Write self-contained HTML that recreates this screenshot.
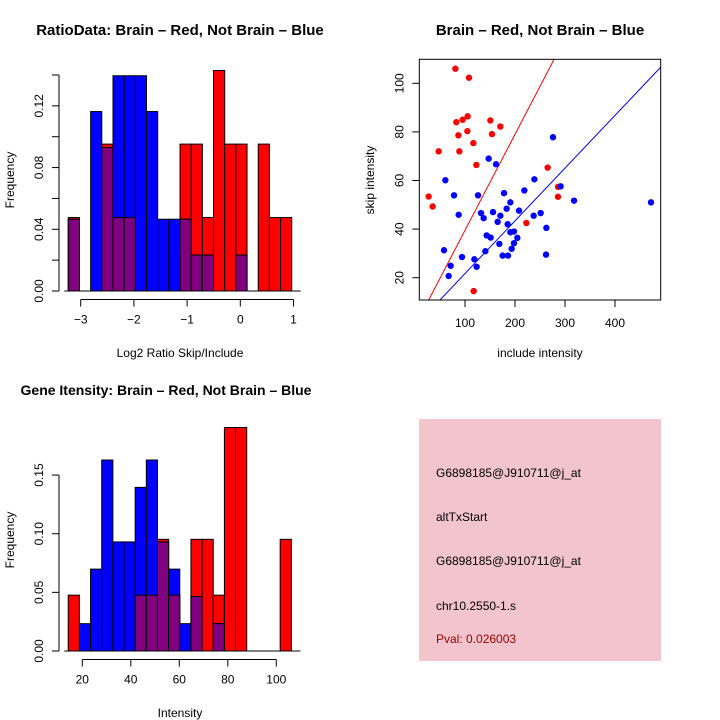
<!DOCTYPE html>
<html><head><meta charset="utf-8"><style>
html,body{margin:0;padding:0;background:#fff;}
svg{display:block;font-family:"Liberation Sans",sans-serif;}
</style></head><body>
<svg id="s" width="720" height="720" viewBox="0 0 720 720">
<rect x="0" y="0" width="720" height="720" fill="#fff"/>
<text x="180" y="35" text-anchor="middle" font-size="15" font-weight="bold">RatioData: Brain – Red, Not Brain – Blue</text>
<text x="540" y="35" text-anchor="middle" font-size="15" font-weight="bold">Brain – Red, Not Brain – Blue</text>
<text x="166" y="395" text-anchor="middle" font-size="14" font-weight="bold">Gene Itensity: Brain – Red, Not Brain – Blue</text>
<text x="180" y="357" text-anchor="middle" font-size="12">Log2 Ratio Skip/Include</text>
<text transform="translate(14,180) rotate(-90)" text-anchor="middle" font-size="12">Frequency</text>
<text x="540" y="357" text-anchor="middle" font-size="12">include intensity</text>
<text transform="translate(374,180) rotate(-90)" text-anchor="middle" font-size="12">skip intensity</text>
<text x="180" y="717" text-anchor="middle" font-size="12">Intensity</text>
<text transform="translate(14,540) rotate(-90)" text-anchor="middle" font-size="12">Frequency</text>
<g>
<rect x="419" y="419" width="242" height="242" fill="#f2c4ce"/>
<text x="436" y="477" font-size="12">G6898185@J910711@j_at</text>
<text x="436" y="521" font-size="12">altTxStart</text>
<text x="436" y="565" font-size="12">G6898185@J910711@j_at</text>
<text x="436" y="610" font-size="12">chr10.2550-1.s</text>
<text x="436" y="643" font-size="12" fill="#a00000">Pval: 0.026003</text>
</g>
</svg>
<script>
// Ratio histogram data
const ratioStart = -3.233, ratioBinW = 0.21;
const ratioRed  = [0.0476,0,0,0.0952,0.0476,0.0476,0,0,0,0,0.0952,0.0952,0.0476,0.1429,0.0952,0.0952,0,0.0952,0.0476,0.0476];
const ratioBlue = [0.0465,0,0.1163,0.093,0.1395,0.1395,0.1395,0.1163,0.0465,0.0465,0.0465,0.0233,0.0233,0,0,0.0233,0,0,0,0];
const ratioXTicks = [-3,-2,-1,0,1];
const ratioYTicks = [0,0.02,0.04,0.06,0.08,0.10,0.12,0.14];
const ratioYLabels = [0,0.04,0.08,0.12];
// Intensity histogram data
const intStart = 14.2, intBinW = 4.6;
const intRed  = [0.0476,0,0,0,0,0,0.0476,0.0476,0.0952,0.0476,0,0.0952,0.0952,0.0476,0.1905,0.1905,0,0,0,0.0952];
const intBlue = [0,0.0233,0.0698,0.1628,0.093,0.093,0.1395,0.1628,0.093,0.0698,0.0233,0.0465,0,0.0233,0,0,0,0,0,0];
const intXTicks = [20,40,60,80,100];
const intYTicks = [0,0.05,0.10,0.15];
// Scatter data
const redX = [80.7,108,82.7,95.3,105.3,150.7,170.7,104.7,86.7,154,116.7,47.3,88.7,122.7,265.3,27.3,35.3,286,286,222.7,117.3];
const redY = [106,102.3,84,85,86.4,84.7,82.2,80.3,78.6,79.1,75.4,72,72,66.4,65.3,53.4,49.3,57.4,53.3,42.5,14.5];
const blueX = [276,147.3,162,60.7,238.7,78,126,178,218.7,291.3,318,472,190.7,183.3,87.3,132,137.3,156,170.7,208,237.3,251.3,165.3,185.3,262.7,143.3,151.3,190.7,198,204.7,198,168.7,193.3,140.7,58,94,175.3,186,262,118.7,71.3,123.3,67.3];
const blueY = [77.8,69,66.7,60.1,60.5,53.9,53.9,54.8,55.9,57.6,51.7,51,51,48.4,45.9,46.6,44.5,47,45.5,47.6,45.5,46.6,43,42,40.5,37.4,36.5,38.7,39,36.4,34.2,33.9,31.9,30.9,31.3,28.5,29.1,29.1,29.5,27.6,24.9,24.5,20.7];
const redSlope = 0.395, blueSlope = 0.217;
const scXTicks = [100,200,300,400];
const scYTicks = [20,40,60,80,100];

const NS='http://www.w3.org/2000/svg';
const svg=document.getElementById('s');
function el(tag,attrs,parent){const e=document.createElementNS(NS,tag);for(const k in attrs)e.setAttribute(k,attrs[k]);(parent||svg).appendChild(e);return e;}
function fmt(v,d){return v.toFixed(d);}

function hist(cfg){
  const g=el('g',{});
  
  
  const xs=v=>cfg.x0+(v-cfg.xv0)*cfg.xk, ys=v=>cfg.y0-v*cfg.yk;
  for(let i=0;i<cfg.red.length;i++){
    const a=xs(cfg.start+i*cfg.w), b=xs(cfg.start+(i+1)*cfg.w);
    const r=cfg.red[i], bl=cfg.blue[i], m=Math.min(r,bl);
    if(r>0){const e=el('rect',{x:a,y:ys(r),width:b-a,height:ys(0)-ys(r),fill:'#ff0000',stroke:'#000','stroke-width':1},g);
      
      }
    if(bl>0){const e=el('rect',{x:a,y:ys(bl),width:b-a,height:ys(0)-ys(bl),fill:'#0000ff',stroke:'#000','stroke-width':1},g);
      
      }
    if(m>0){const e=el('rect',{x:a,y:ys(m),width:b-a,height:ys(0)-ys(m),fill:'#800080',stroke:'#000','stroke-width':1},g);
      
      }
  }
  el('line',{x1:xs(cfg.start)-4,x2:xs(cfg.start+cfg.red.length*cfg.w)+9,y1:ys(0),y2:ys(0),stroke:'#000'},g);
  const xt=cfg.xticks;
  el('line',{x1:xs(xt[0]),x2:xs(xt[xt.length-1]),y1:cfg.xaxisY,y2:cfg.xaxisY,stroke:'#000'},g);
  xt.forEach(t=>{el('line',{x1:xs(t),x2:xs(t),y1:cfg.xaxisY,y2:cfg.xaxisY+7,stroke:'#000'},g);
    const tx=el('text',{x:xs(t),y:cfg.xaxisY+24,'text-anchor':'middle','font-size':12},g);tx.textContent=(t<0?'\u2212'+(-t):t);
    
    });
  const yt=cfg.yticks;
  el('line',{x1:cfg.yaxisX,x2:cfg.yaxisX,y1:ys(yt[0]),y2:ys(yt[yt.length-1]),stroke:'#000'},g);
  yt.forEach(t=>{el('line',{x1:cfg.yaxisX-7,x2:cfg.yaxisX,y1:ys(t),y2:ys(t),stroke:'#000'},g);});
  cfg.ylabels.forEach(t=>{const tx=el('text',{transform:`translate(${cfg.yaxisX-16},${ys(t)}) rotate(-90)`,'text-anchor':'middle','font-size':12},g);
    tx.textContent=fmt(t,2);
    
    });
}
hist({name:'ratio-histogram',red:ratioRed,blue:ratioBlue,start:ratioStart,w:ratioBinW,x0:80.7,xv0:-3,xk:53.2,y0:291,yk:1543,xaxisY:299.5,yaxisX:59,xticks:ratioXTicks,yticks:ratioYTicks,ylabels:ratioYLabels});
hist({name:'intensity-histogram',red:intRed,blue:intBlue,start:intStart,w:intBinW,x0:82.3,xv0:20,xk:2.425,y0:651,yk:1173,xaxisY:659.5,yaxisX:59,xticks:intXTicks,yticks:intYTicks,ylabels:intYTicks});

(function(){
  const g=el('g',{});
  
  
  const L=419.3,R=660.7,T=59.3,B=300;
  const xs=v=>465+(v-100)*0.5, ys=v=>277.7-(v-20)*2.43;
  const cp=el('clipPath',{id:'cp'},g);el('rect',{x:L,y:T,width:R-L,height:B-T},cp);
  const lg=el('g',{'clip-path':'url(#cp)'},g);
  const l1=el('line',{x1:xs(0),y1:ys(0),x2:xs(600),y2:ys(600*redSlope),stroke:'#ff0000','stroke-width':1},lg);
  
  
  const l2=el('line',{x1:xs(0),y1:ys(0),x2:xs(600),y2:ys(600*blueSlope),stroke:'#0000ff','stroke-width':1},lg);
  
  
  redX.forEach((x,i)=>{const c=el('circle',{cx:xs(x),cy:ys(redY[i]),r:3.2,fill:'#ff0000'},g);
    
    });
  blueX.forEach((x,i)=>{const c=el('circle',{cx:xs(x),cy:ys(blueY[i]),r:3.2,fill:'#0000ff'},g);
    
    });
  el('rect',{x:L,y:T,width:R-L,height:B-T,fill:'none',stroke:'#000'},g);
  scXTicks.forEach(t=>{el('line',{x1:xs(t),x2:xs(t),y1:B,y2:B+7,stroke:'#000'},g);
    const tx=el('text',{x:xs(t),y:B+27,'text-anchor':'middle','font-size':12},g);tx.textContent=t;
    
    });
  scYTicks.forEach(t=>{el('line',{x1:L-7,x2:L,y1:ys(t),y2:ys(t),stroke:'#000'},g);
    const tx=el('text',{transform:`translate(${L-16},${ys(t)}) rotate(-90)`,'text-anchor':'middle','font-size':12},g);tx.textContent=t;
    
    });
})();
</script>
</body></html>
